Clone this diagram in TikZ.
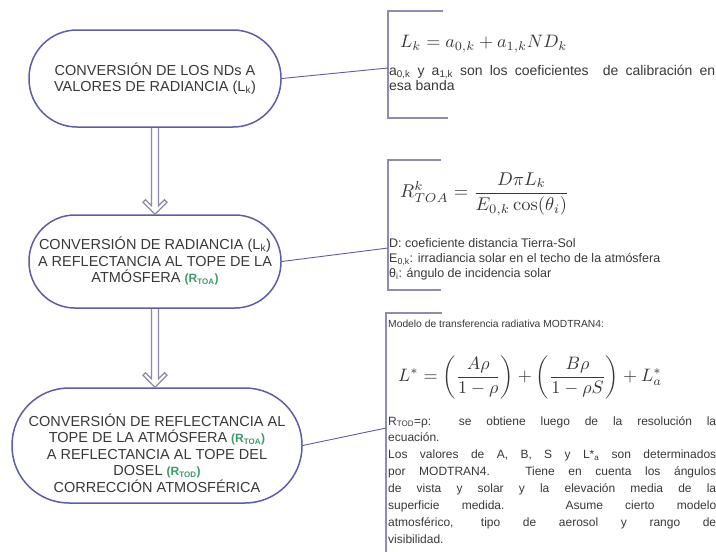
\documentclass[tikz,border=0pt]{standalone}
\usepackage[no-math]{fontspec}
\setmainfont{Liberation Sans}
\usepackage{amsmath}
\usepackage{graphicx}
\usetikzlibrary{calc}
\definecolor{boxline}{HTML}{5C5CA8}
\definecolor{txt}{HTML}{383838}
\definecolor{grn}{HTML}{3E9A6A}
\definecolor{arr}{HTML}{8A8AA6}
\definecolor{brk}{HTML}{8C8CB4}
\begin{document}
\begin{tikzpicture}[x=1pt,y=-1pt,
  flowbox/.style={draw=boxline, line width=1.5pt, rounded corners=#1, inner sep=0pt},
  boxtext/.style={text=txt, align=center, font=\fontsize{14.5}{16.5}\selectfont, inner sep=0pt},
  link/.style={draw=boxline, line width=0.9pt},
  bracket/.style={draw=brk, line width=1.1pt},
  flowarrow/.style={draw=arr, line width=1.4pt, line join=miter,
    to path={let \p1=(\tikztostart), \p2=(\tikztotarget) in
      (\x1-3.5pt,\y1) -- (\x1-3.5pt,\y2+8.5pt) -- (\x1-9.5pt,\y2+14.5pt) -- (\x1-12pt,\y2+12pt)
      -- (\x1,\y2) -- (\x1+12pt,\y2+12pt) -- (\x1+9.5pt,\y2+14.5pt) -- (\x1+3.5pt,\y2+8.5pt)
      -- (\x1+3.5pt,\y1)}},
  note/.style={text=txt, align=left, anchor=west, inner sep=0pt},
  grnlabel/.style={}
]
\useasboundingbox (0,0) rectangle (716,552);
\newcommand{\grn}[1]{{\color{grn}\bfseries\fontsize{12}{14}\selectfont(R\textsubscript{#1})}}
% flow boxes
\node[flowbox=48pt, minimum width=252pt, minimum height=97pt] (n1) at (155,78.5) {};
\node[boxtext] (t1) at (155,78.5) {CONVERSIÓN DE LOS NDs A\\VALORES DE RADIANCIA (L\textsubscript{k})};
\node[flowbox=46pt, minimum width=252pt, minimum height=93pt] (n2) at (155,261.5) {};
\node[boxtext] (t2) at (155,261) {CONVERSIÓN DE RADIANCIA (L\textsubscript{k})\\A REFLECTANCIA AL TOPE DE LA\\ATMÓSFERA \grn{TOA}};
\node[flowbox=57pt, minimum width=290pt, minimum height=115pt] (n3) at (157,445.5) {};
\node[boxtext] (t3) at (157,453) {CONVERSIÓN DE REFLECTANCIA AL\\TOPE DE LA ATMÓSFERA \grn{TOA}\\A REFLECTANCIA AL TOPE DEL\\DOSEL \grn{TOD}\\CORRECCIÓN ATMOSFÉRICA};
% arrows
\draw[flowarrow] (n1.south) to (n1.south |- n2.north);
\draw[flowarrow] (n2.south) to (n2.south |- n3.north);
% brackets
\draw[bracket] (443,11) -- (388,11) -- (388,118) -- (448,118);
\draw[bracket] (441,160) -- (388,160) -- (388,290) -- (441,290);
\draw[bracket] (442,313) -- (386,313) -- (386,552);
\coordinate (c1) at (388,68);
\coordinate (c2) at (388,248);
\coordinate (c3) at (386,428);
\draw[link] (n1.east) -- (c1);
\draw[link] (n2.east) -- (c2);
\draw[link] (n3.east) -- (c3);
% note 1
\node[note] (f1) at (400,44) {\scalebox{1.8}{$L_k = a_{0,k}+a_{1,k}ND_k$}};
\node[note, font=\fontsize{14}{15}\selectfont] (d1) at (389,77.5) {\makebox[326pt][s]{a\textsubscript{0,k} y a\textsubscript{1,k} son los coeficientes\ \ de calibración en}\\esa banda};
% note 2
\node[note] (f2) at (400,194) {\scalebox{1.85}{$R^{k}_{TOA} = \dfrac{D\pi L_k}{E_{0,k}\cos(\theta_i)}$}};
\node[note, font=\fontsize{12.5}{15}\selectfont] (d2) at (389,259) {D: coeficiente distancia Tierra-Sol\\E\textsubscript{0,k}: irradiancia solar en el techo de la atmósfera\\θ\textsubscript{i}: ángulo de incidencia solar};
% note 3
\node[note, font=\fontsize{10.3}{15}\selectfont] (h3) at (388,324) {Modelo de transferencia radiativa MODTRAN4:};
\node[note] (f3) at (398,377) {\scalebox{1.8}{$\displaystyle L^{*} = \left(\frac{A\rho}{1-\rho}\right)+\left(\frac{B\rho}{1-\rho S}\right)+L^{*}_{a}$}};
\node[note, anchor=north west, font=\fontsize{12}{16.9}\selectfont] (d3) at (388,416) {\makebox[328pt][s]{R\textsubscript{TOD}=ρ: se obtiene luego de la resolución la}\\ecuación.\\\makebox[328pt][s]{Los valores de A, B, S y L*\textsubscript{a} son determinados}\\\makebox[328pt][s]{por MODTRAN4. Tiene en cuenta los ángulos}\\\makebox[328pt][s]{de vista y solar y la elevación media de la}\\\makebox[328pt][s]{superficie medida. Asume cierto modelo}\\\makebox[328pt][s]{atmosférico, tipo de aerosol y rango de}\\visibilidad.};
\end{tikzpicture}
\end{document}
